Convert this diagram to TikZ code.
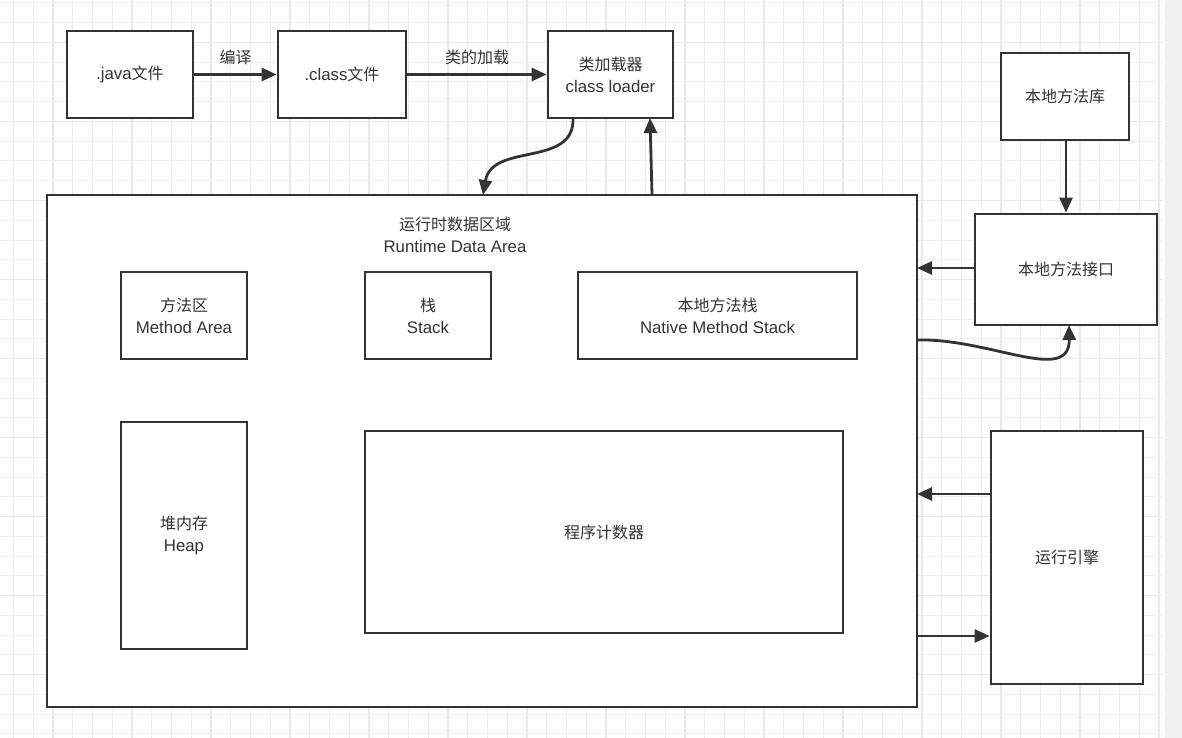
\documentclass[tikz,border=0pt]{standalone}
\usepackage{fontspec}
\setmainfont{Liberation Sans}[Scale=1.05]
\newfontfamily\cjk{Noto Sans CJK SC}
\usetikzlibrary{arrows.meta}
\definecolor{ln}{HTML}{333333}
\definecolor{gridc}{HTML}{EEEEEE}
\definecolor{gridm}{HTML}{E8E8E8}
\definecolor{strip}{HTML}{F0F0F0}
\tikzset{
  box/.style={draw=ln, line width=2.8pt, fill=white, inner sep=0pt, align=center, font=\fontsize{16}{22}\selectfont, text=ln},
  conn/.style={draw=ln, line width=2.8pt, -{Triangle[length=15pt,width=13pt]}},
  lbl/.style={font=\fontsize{16}{22}\selectfont, text=ln, inner sep=1pt}
}
\begin{document}
\begin{tikzpicture}[x=1pt,y=-1pt]
\useasboundingbox (0,0) rectangle (1182,738);
\fill[white] (0,0) rectangle (1182,738);
\fill[strip] (1165,0) rectangle (1182,738);
% grid
\foreach \k in {0,...,58}{
  \pgfmathsetmacro{\gx}{13.5+19.75*\k}
  \pgfmathtruncatemacro{\mj}{mod(\k,4)==2}
  \ifnum\mj=1
    \draw[gridm, line width=1.3pt] (\gx,0) -- (\gx,738);
  \else
    \draw[gridc, line width=1pt] (\gx,0) -- (\gx,738);
  \fi
}
\foreach \k in {0,...,37}{
  \pgfmathsetmacro{\gy}{3+19.75*\k}
  \pgfmathtruncatemacro{\mj}{mod(\k,4)==2}
  \ifnum\mj=1
    \draw[gridm, line width=1.3pt] (0,\gy) -- (1163,\gy);
  \else
    \draw[gridc, line width=1pt] (0,\gy) -- (1163,\gy);
  \fi
}
% top row
\node[box, minimum width=126pt, minimum height=87pt] (java) at (130,74.5) {.java{\cjk 文件}};
\node[box, minimum width=128pt, minimum height=87pt] (cls) at (342,74.5) {.class{\cjk 文件}};
\node[box, minimum width=125pt, minimum height=87pt] (ldr) at (610.5,74.5) {{\cjk 类加载器}\\class loader};
\node[box, minimum width=128pt, minimum height=87pt] (nlib) at (1065,96.5) {\cjk 本地方法库};
% runtime area
\node[box, minimum width=870pt, minimum height=512pt] (rda) at (482,451) {};
\node[lbl, align=center] (rdat) at (455,235) {{\cjk 运行时数据区域}\\Runtime Data Area};
\node[box, minimum width=126pt, minimum height=87pt] (ma) at (184,315.5) {{\cjk 方法区}\\Method Area};
\node[box, minimum width=126pt, minimum height=87pt] (stk) at (428,315.5) {{\cjk 栈}\\Stack};
\node[box, minimum width=279pt, minimum height=87pt] (nms) at (717.5,315.5) {{\cjk 本地方法栈}\\Native Method Stack};
\node[box, minimum width=126pt, minimum height=227pt] (heap) at (184,535.5) {{\cjk 堆内存}\\Heap};
\node[box, minimum width=478pt, minimum height=202pt] (pc) at (604,532) {\cjk 程序计数器};
% right side
\node[box, minimum width=182pt, minimum height=111pt] (nif) at (1066,269.5) {\cjk 本地方法接口};
\node[box, minimum width=152pt, minimum height=253pt] (eng) at (1067,557.5) {\cjk 运行引擎};
% connectors
\draw[conn] (java.east) -- (cls.west) node[lbl, midway, above=7pt] {\cjk 编译};
\draw[conn] (cls.east) -- (ldr.west) node[lbl, midway, above=7pt] {\cjk 类的加载};
\coordinate (c1) at (573,118);
\coordinate (c2) at (483,195);
\draw[conn] (c1) .. controls (575,168) and (492,142) .. (c2);
\coordinate (c3) at (652,195);
\coordinate (c4) at (650,118);
\draw[conn] (c3) -- (c4);
\coordinate (c10) at (1066,140);
\draw[conn] (c10) -- (nif.north);
\coordinate (c5) at (917,268);
\draw[conn] (nif.west |- c5) -- (c5);
\coordinate (c6) at (917,340);
\coordinate (c7) at (1069,325);
\draw[conn] (c6) .. controls (990,338) and (1070,385) .. (c7);
\coordinate (c8) at (917,494);
\draw[conn] (eng.west |- c8) -- (c8);
\coordinate (c9) at (917,636);
\draw[conn] (c9) -- (eng.west |- c9);
\end{tikzpicture}
\end{document}
